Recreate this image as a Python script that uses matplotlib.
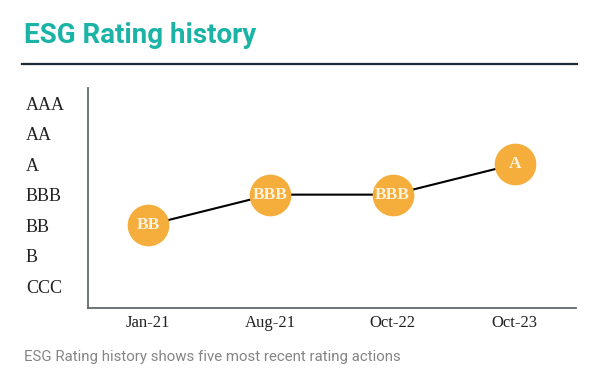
import matplotlib
matplotlib.use("Agg")
import matplotlib.pyplot as plt
from matplotlib.lines import Line2D

# rating scale, lowest to highest
RATINGS = ["CCC", "B", "BB", "BBB", "A", "AA", "AAA"]
DATES = ["Jan-21", "Aug-21", "Oct-22", "Oct-23"]
HISTORY = ["BB", "BBB", "BBB", "A"]

TITLE = "ESG Rating history"
FOOTNOTE = "ESG Rating history shows five most recent rating actions"

TEAL = "#1bb3a6"
ORANGE = "#f5ae3c"
W, H = 605, 378

fig = plt.figure(figsize=(W / 100, H / 100), dpi=100)
ax = fig.add_axes([88 / W, 1 - 308 / H, (576 - 88) / W, (308 - 88) / H])

x = list(range(len(DATES)))
y = [RATINGS.index(r) for r in HISTORY]

ax.plot(x, y, color="black", lw=1.5, zorder=2)
ax.plot(x, y, ls="none", marker="o", ms=29, mfc=ORANGE, mec=ORANGE, zorder=3)
for xi, yi, label in zip(x, y, HISTORY):
    ax.text(xi, yi, label, ha="center", va="center", color="#fdf3e0",
            fontsize=12.5, fontweight="bold", family="Liberation Serif", zorder=4)

ax.set_xlim(-0.49, 3.5)
ax.set_ylim(-0.72, 6.5)
ax.set_xticks(x, DATES, family="Liberation Serif", fontsize=12, color="#222")
ax.set_yticks(range(len(RATINGS)), RATINGS, family="Liberation Serif",
              fontsize=13, color="#222", ha="left")
ax.tick_params(axis="x", length=0, pad=5)
ax.tick_params(axis="y", length=0, pad=(88 - 26) * 0.72)

for side in ("top", "right"):
    ax.spines[side].set_visible(False)
for side in ("left", "bottom"):
    ax.spines[side].set_color("#5f6b6b")
    ax.spines[side].set_linewidth(1.3)

fig.text(24 / W, 1 - 43 / H, TITLE, color=TEAL, fontsize=20, fontweight="bold",
         family="Roboto", va="baseline")
fig.add_artist(Line2D([22 / W, 577 / W], [1 - 64 / H, 1 - 64 / H],
                      color="#1d2a33", lw=1.6, transform=fig.transFigure))
fig.text(24 / W, 1 - 357 / H, FOOTNOTE, color="#858585", fontsize=10.8,
         family="Roboto", va="center")

fig.savefig("out.png", dpi=100)
